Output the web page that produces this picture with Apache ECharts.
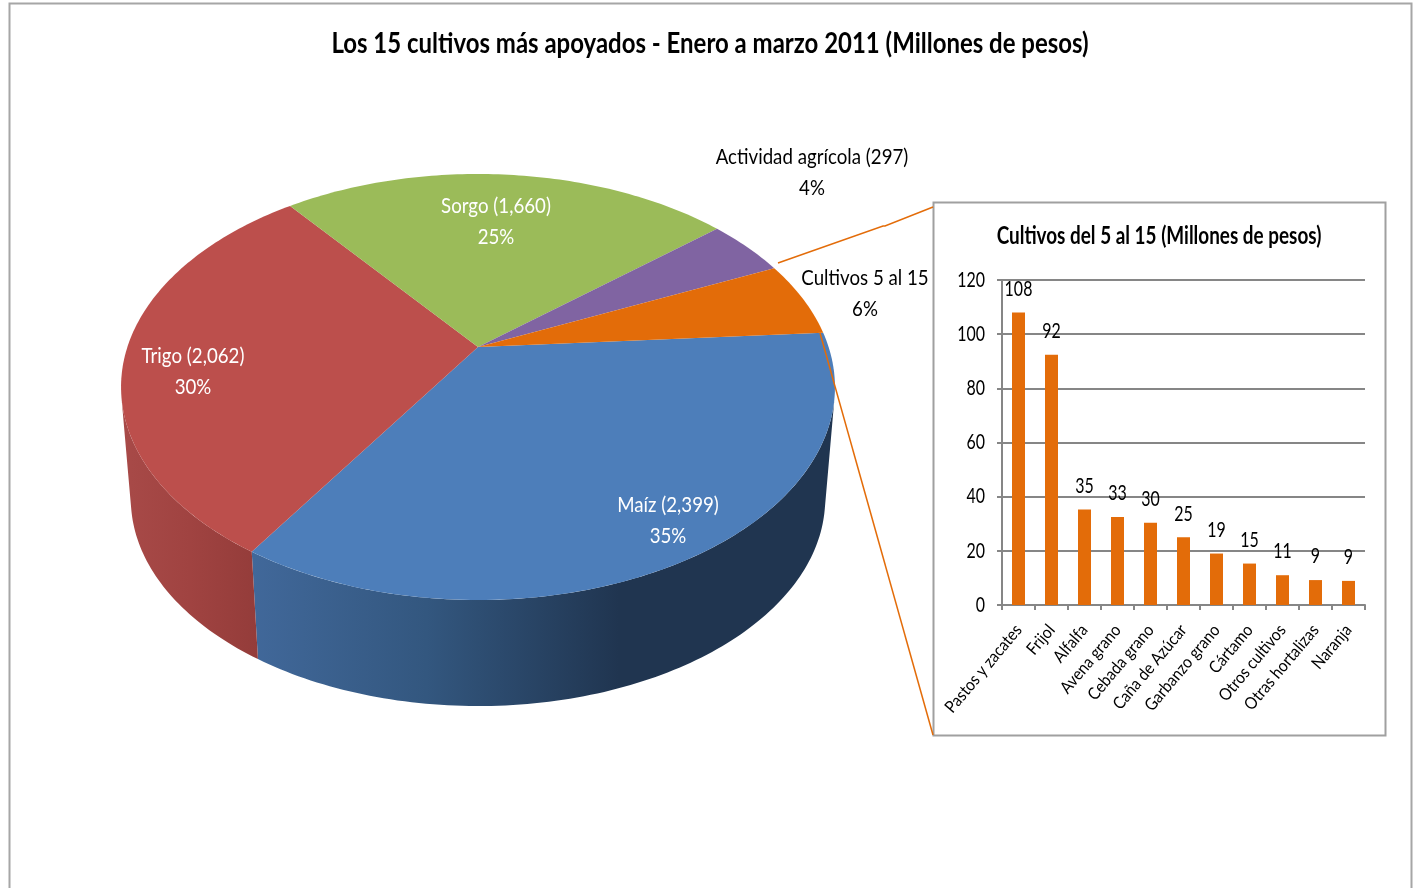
<!DOCTYPE html>
<html><head><meta charset="utf-8">
<style>html,body{margin:0;padding:0;background:#fff;overflow:hidden}#c{width:1418px;height:888px}</style>
<script src="https://cdn.jsdelivr.net/npm/echarts@6/dist/echarts.min.js"></script>
</head><body><div id="c"></div>
<script>
const pieNames = ['Maíz (2,399)', 'Trigo (2,062)', 'Sorgo (1,660)', 'Actividad agrícola (297)', 'Cultivos 5 al 15'];
const pieValues = [2399, 2062, 1660, 297, 386];
const piePercents = ['35%', '30%', '25%', '4%', '6%'];
const pieColors = ['#4d7eba', '#bc4f4c', '#9bbb59', '#8064a2', '#e36c09'];
const barCategories = ['Pastos y zacates', 'Frijol', 'Alfalfa', 'Avena grano', 'Cebada grano', 'Caña de Azúcar', 'Garbanzo grano', 'Cártamo', 'Otros cultivos', 'Otras hortalizas', 'Naranja'];
const barValues = [108, 92.4, 35.3, 32.5, 30.4, 25, 19, 15.3, 11, 9.2, 8.9];
const yTicks = { min: 0, max: 120, interval: 20 };
const mainTitle = 'Los 15 cultivos más apoyados - Enero a marzo 2011 (Millones de pesos)';
const subTitle = 'Cultivos del 5 al 15 (Millones de pesos)';

const FONT = 'Lato,"Open Sans",sans-serif';
const INK = '#000';
// perspective projection of the pie disc
const P = { cx: 478, cy: 347, A: 350.6, B: 205.5, k: 0.1878, startDeg: -4, vy: 4470, s: 0.9726 };
function topPt(deg) {
  const t = deg * Math.PI / 180, u = Math.cos(t), v = Math.sin(t), d = 1 - P.k * v;
  return [P.cx + P.A * u / d, P.cy + P.B * v / d];
}
function bottomPt(deg) {
  const p = topPt(deg);
  return [P.cx + P.s * (p[0] - P.cx), P.vy + P.s * (p[1] - P.vy)];
}
// silhouette angle: where the line through the vanishing point touches the rim
let tangentR = 0, best = -1;
for (let d = 0; d <= 90; d += 0.25) {
  const p = topPt(d), r = (p[0] - P.cx) / (P.vy - p[1]);
  if (r > best) { best = r; tangentR = d; }
}
const tangentL = 180 - tangentR;
const total = pieValues.reduce((a, b) => a + b, 0);
const labelAt = [[668, 520], [193, 371], [496, 221], [812, 172], [865, 293]];
const labelInk = ['#fff', '#fff', '#fff', INK, INK];
const sideFill = [
  [[0, '#41689a'], [0.3, '#33577f'], [0.63, '#203550'], [1, '#203550']],
  [[0, '#a84a48'], [0.5, '#a04341'], [1, '#943c3a']]
];

function renderSlice(params, api) {
  const i = params.dataIndex;
  let before = 0;
  for (let j = 0; j < i; j++) before += pieValues[j];
  const a0 = P.startDeg + before / total * 360;
  const a1 = a0 + api.value(0) / total * 360;
  const arc = (fn, from, to) => {
    const out = [], n = Math.max(2, Math.ceil(Math.abs(to - from)));
    for (let q = 0; q <= n; q++) out.push(fn(from + (to - from) * q / n));
    return out;
  };
  const children = [];
  const s0 = Math.max(a0, tangentR), s1 = Math.min(a1, tangentL);
  if (s1 > s0 && sideFill[i]) {
    const poly = arc(topPt, s0, s1).concat(arc(bottomPt, s1, s0));
    children.push({
      type: 'polygon', shape: { points: poly },
      style: { fill: new echarts.graphic.LinearGradient(0, 0, 1, 0, sideFill[i].map(c => ({ offset: c[0], color: c[1] }))) }
    });
  }
  children.push({
    type: 'polygon', shape: { points: [[P.cx, P.cy]].concat(arc(topPt, a0, a1)) },
    style: { fill: pieColors[i] }
  });
  children.push({
    type: 'text', z2: 10, x: labelAt[i][0], y: labelAt[i][1],
    style: {
      text: pieNames[i] + '\n' + piePercents[i],
      align: 'center', verticalAlign: 'middle', lineHeight: 31,
      font: '22px ' + FONT, fill: labelInk[i]
    }
  });
  return { type: 'group', children };
}

const chart = echarts.init(document.getElementById('c'));
chart.setOption({
  animation: false,
  backgroundColor: '#fff',
  title: [
    { text: mainTitle, left: 710, top: 30, padding: 0, textAlign: 'center',
      textStyle: { fontFamily: FONT, fontWeight: 'bold', fontSize: 28, color: INK } },
    { text: subTitle, left: 1159, top: 224, padding: 0, textAlign: 'center',
      textStyle: { fontFamily: FONT, fontWeight: 'bold', fontSize: 24, color: INK } }
  ],
  graphic: [
    { type: 'rect', z: -1, shape: { x: 9.5, y: 3.5, width: 1402, height: 900 }, style: { fill: '#fff', stroke: '#a6a6a6', lineWidth: 2 } },
    { type: 'rect', z: -1, shape: { x: 933.5, y: 202.5, width: 452, height: 533 }, style: { fill: '#fff', stroke: '#a0a0a0', lineWidth: 2 } },
    { type: 'polyline', z: 5, shape: { points: [[778, 263], [883, 226], [885, 226], [933, 207]] }, style: { fill: null, stroke: '#e36c09', lineWidth: 1.5 } },
    { type: 'line', z: 5, shape: { x1: 820, y1: 333, x2: 933, y2: 735 }, style: { stroke: '#e36c09', lineWidth: 1.5 } }
  ],
  grid: { left: 1002, top: 280, width: 363, height: 325, containLabel: false },
  xAxis: {
    type: 'category', data: barCategories,
    axisLine: { lineStyle: { color: '#868686', width: 2 } },
    axisTick: { show: true, length: 5, lineStyle: { color: '#868686', width: 2 } },
    axisLabel: { interval: 0, rotate: 50, margin: 22, fontFamily: FONT, fontSize: 17, color: INK }
  },
  yAxis: {
    type: 'value', min: yTicks.min, max: yTicks.max, interval: yTicks.interval,
    axisLine: { show: true, lineStyle: { color: '#868686', width: 2 } },
    axisTick: { show: true, length: 5, lineStyle: { color: '#868686', width: 2 } },
    axisLabel: { margin: 17, fontFamily: FONT, fontSize: 21, color: INK },
    splitLine: { lineStyle: { color: '#868686', width: 2 } }
  },
  series: [
    { type: 'custom', coordinateSystem: 'none', silent: true, data: pieValues.map(v => [v]), encode: { value: 0 }, renderItem: renderSlice, z: 3 },
    { type: 'bar', data: barValues, barWidth: 13, z: 4, itemStyle: { color: '#e36c09' },
      label: { show: true, position: 'top', distance: 13, fontFamily: FONT, fontSize: 21, color: INK, formatter: p => Math.round(p.value) } }
  ]
});
// the reference face is narrower than any installed one: condense text horizontally
const zr = chart.getZr();
const seen = new Set();
zr.storage.getDisplayList(true, true).forEach(d => {
  const t = d.parent;
  if (d.type !== 'tspan' || !t || seen.has(t)) return;
  seen.add(t);
  const s = String(t.style && t.style.text);
  t.scaleX = /^\d+$/.test(s) ? 0.76 : s === mainTitle ? 0.856 : s === subTitle ? 0.788 : barCategories.includes(s) ? 0.9 : 0.85;
  t.markRedraw();
});
zr.refresh();
</script></body></html>
